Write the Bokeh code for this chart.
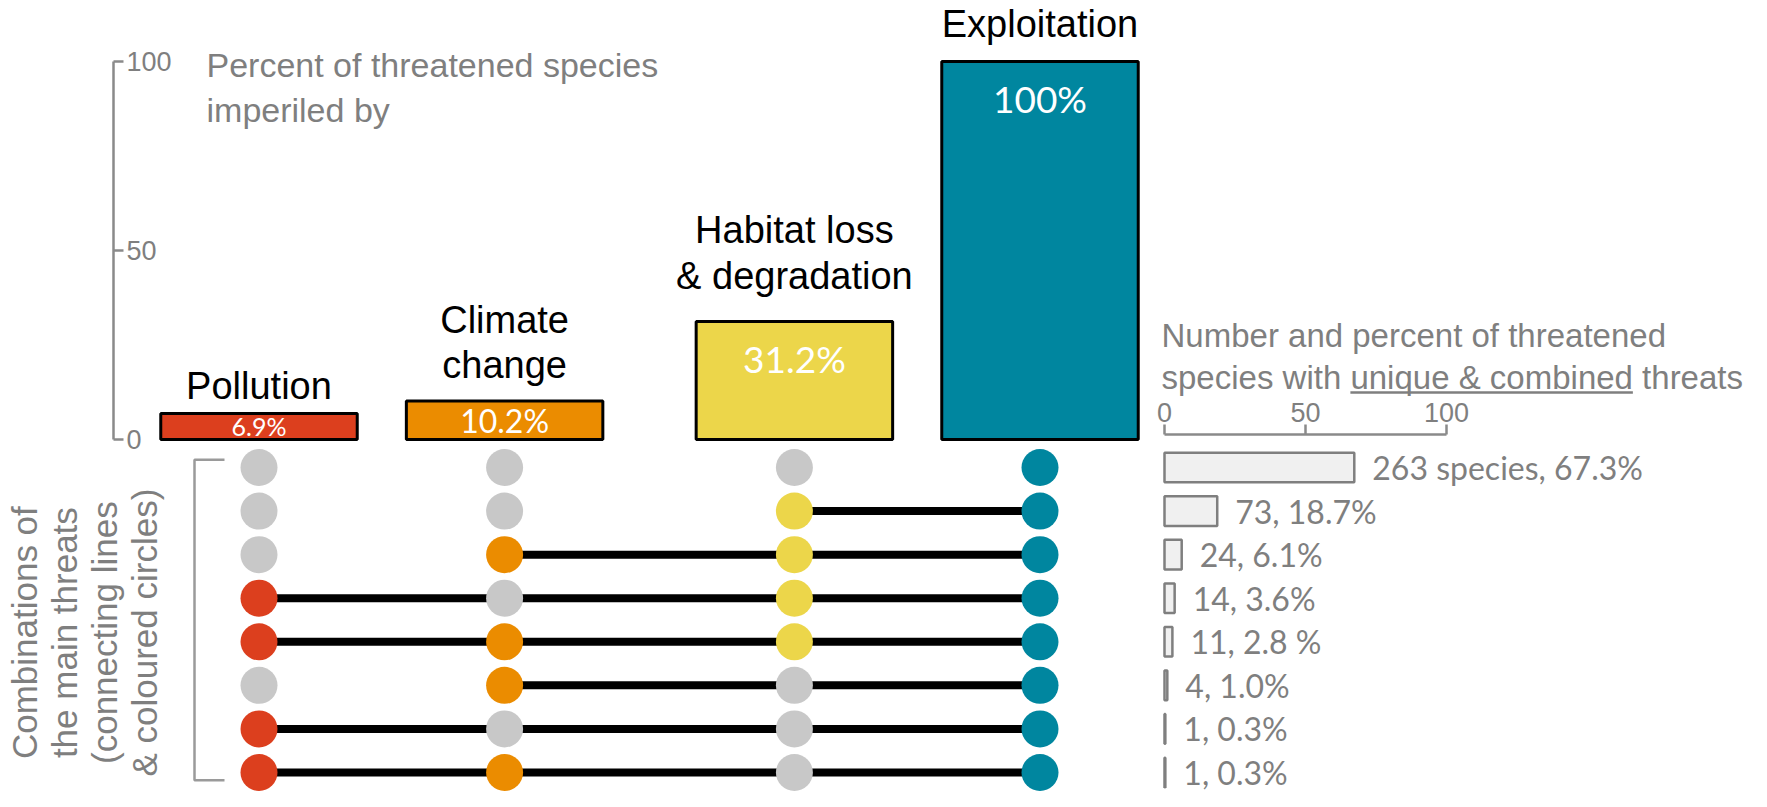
import math
from bokeh.plotting import figure
from bokeh.models import Range1d, LinearAxis, FixedTicker, ColumnDataSource
from bokeh.core.properties import value
from bokeh.embed import file_html
from bokeh.resources import INLINE

# ---------------- data ----------------
threats = ["Pollution", "Climate change", "Habitat loss & degradation", "Exploitation"]
threat_names = ["Pollution", "Climate\nchange", "Habitat loss\n& degradation", "Exploitation"]
threat_pct = [6.9, 10.2, 31.2, 100.0]
threat_colors = ["#DC3F1E", "#EB8C00", "#ECD64A", "#00869F"]

combo_pollution = [0, 0, 0, 1, 1, 0, 1, 1]
combo_climate = [0, 0, 1, 0, 1, 1, 0, 1]
combo_habitat = [0, 1, 1, 1, 1, 0, 0, 0]
combo_exploitation = [1, 1, 1, 1, 1, 1, 1, 1]
combo_species = [263, 73, 24, 14, 11, 4, 1, 1]
combo_pct = [67.3, 18.7, 6.1, 3.6, 2.8, 1.0, 0.3, 0.3]
combo_labels = ["263 species, 67.3%", "73, 18.7%", "24, 6.1%", "14, 3.6%",
                "11, 2.8 %", "4, 1.0%", "1, 0.3%", "1, 0.3%"]
pct_ticks = [0, 50, 100]

left_title = ["Percent of threatened species", "imperiled by"]
right_title_1 = "Number and percent of threatened"
right_title_2_pre = "species with "
right_title_2_under = "unique & combined"
right_title_2_post = " threats"
matrix_title = "Combinations of\nthe main threats\n(connecting lines\n& coloured circles)"

# ---------------- layout / style ----------------
W, H = 1751, 791
GRAY_TXT = "#7F7F7F"
GRAY_DOT = "#C8C8C8"
SANS = value("Liberation Sans")
CAL = value("Lato")


def lin_range(pa, va, pb, vb, p_start, p_end):
    k = (vb - va) / (pb - pa)
    return Range1d(start=va + (p_start - pa) * k, end=va + (p_end - pa) * k)


GROUP_GAP = 0.18
thr_pos = [i + (GROUP_GAP if i >= 2 else 0.0) for i in range(len(threats))]
rows = list(range(len(combo_pct)))

PCT0_PX, PCT100_PX = 439, 61
PX_PER_PCT = (PCT0_PX - PCT100_PX) / 100.0

p = figure(width=W, height=H, x_range=Range1d(0, W), y_range=Range1d(H, 0),
           output_backend="svg", toolbar_location=None,
           x_axis_location=None, y_axis_location=None, min_border=0,
           outline_line_color=None, background_fill_color="white",
           border_fill_color="white")
for g in p.grid:
    g.visible = False

p.extra_x_ranges = {
    "thr": lin_range(258.5, thr_pos[0], 1039.5, thr_pos[-1], 0, W),
    "pct2": lin_range(1164, 0, 1446, 100, 0, W),
}
p.extra_y_ranges = {
    "pct": lin_range(PCT0_PX, 0, PCT100_PX, 100, H, 0),
    "row": lin_range(467, rows[0], 772, rows[-1], H, 0),
}

# ---- top bars ----
bar_px = [v * PX_PER_PCT for v in threat_pct]
inner_off = [min(h / 2.0, 37) for h in bar_px]
inner_size = ["25px" if h < 30 else ("32px" if h < 45 else "37px") for h in bar_px]
name_gap = [6, 15, 25, 17]
src_thr = ColumnDataSource(dict(
    x=thr_pos, pct=threat_pct, color=threat_colors, name=threat_names,
    lab=[f"{v:g}%" for v in threat_pct], off=inner_off, size=inner_size,
    noff=[-g for g in name_gap]))
p.vbar(x="x", top="pct", bottom=0, width=0.8, source=src_thr,
       x_range_name="thr", y_range_name="pct",
       fill_color="color", line_color="black", line_width=3)
p.text(x="x", y="pct", text="lab", y_offset="off", source=src_thr,
       x_range_name="thr", y_range_name="pct",
       text_align="center", text_baseline="middle", text_color="white",
       text_font=CAL, text_font_size="size")
p.text(x="x", y="pct", text="name", y_offset="noff", source=src_thr,
       x_range_name="thr", y_range_name="pct",
       text_align="center", text_baseline="bottom", text_color="black",
       text_font=SANS, text_font_size="38px", text_line_height=1.08)

# ---- left axis (percent) ----
ax_l = LinearAxis(y_range_name="pct", ticker=FixedTicker(ticks=pct_ticks),
                  fixed_location=113, bounds=(0, 100))
p.add_layout(ax_l, "right")

# ---- left title ----
p.text(x=[206, 206], y=[64, 109], text=left_title, text_baseline="middle",
       text_align="left", text_color=GRAY_TXT, text_font=SANS, text_font_size="34px")

# ---- combination matrix ----
membership = [combo_pollution, combo_climate, combo_habitat, combo_exploitation]
dx, dy, dc = [], [], []
for t, mem in enumerate(membership):
    for r, m in enumerate(mem):
        dx.append(thr_pos[t])
        dy.append(r)
        dc.append(threat_colors[t] if m else GRAY_DOT)
sx0, sx1, sy = [], [], []
for r in rows:
    active = [t for t in range(len(threats)) if membership[t][r]]
    if len(active) > 1:
        sx0.append(thr_pos[active[0]])
        sx1.append(thr_pos[active[-1]])
        sy.append(r)
p.segment(x0=sx0, y0=sy, x1=sx1, y1=sy, x_range_name="thr", y_range_name="row",
          line_color="black", line_width=8)
p.scatter(x=dx, y=dy, color=dc, size=37, line_color=None,
          x_range_name="thr", y_range_name="row")

# bracket and rotated title
p.line(x=[224, 194, 194, 224], y=[rows[0] - 0.18, rows[0] - 0.18, rows[-1] + 0.18, rows[-1] + 0.18],
       y_range_name="row", line_color="#9A9A9A", line_width=2.5)
p.text(x=[84], y=[(rows[0] + rows[-1]) / 2 + 0.29], text=[matrix_title], y_range_name="row",
       angle=math.pi / 2, text_align="center", text_baseline="middle",
       text_color=GRAY_TXT, text_font=SANS, text_font_size="35px", text_line_height=1.03)

# ---- right bars ----
p.hbar(y=rows, left=0, right=combo_pct, height=0.68, x_range_name="pct2", y_range_name="row",
       fill_color="#F0F0F0", line_color="#7F7F7F", line_width=2.5)
p.text(x=combo_pct, y=rows, text=combo_labels, x_offset=18, x_range_name="pct2",
       y_range_name="row", text_align="left", text_baseline="middle",
       text_color=GRAY_TXT, text_font=CAL, text_font_size="32px")

ax_r = LinearAxis(x_range_name="pct2", ticker=FixedTicker(ticks=pct_ticks),
                  fixed_location=434, bounds=(0, 100))
p.add_layout(ax_r, "above")

for ax in (ax_l, ax_r):
    ax.axis_line_color = "#8A8A8A"
    ax.axis_line_width = 2.5
    ax.major_tick_line_color = "#8A8A8A"
    ax.major_tick_line_width = 2.5
    ax.major_tick_out = 10
    ax.major_tick_in = 0
    ax.minor_tick_out = 0
    ax.minor_tick_in = 0
    ax.major_label_text_color = GRAY_TXT
    ax.major_label_text_font = "Liberation Sans"
    ax.major_label_text_font_size = "27px"
    ax.major_label_standoff = 3

# ---- right title with underline ----
AW = {"a": 556, "b": 556, "c": 500, "d": 556, "e": 556, "h": 556, "i": 222, "m": 833,
      "n": 556, "o": 556, "p": 556, "q": 556, "s": 500, "t": 278, "u": 556, "w": 722,
      "&": 667, " ": 278, "r": 333}
TS = 33


def text_w(s):
    return sum(AW.get(c, 556) for c in s) * TS / 1000.0


RT_X, RT_Y1, RT_Y2 = 1161, 335, 377
p.text(x=[RT_X, RT_X], y=[RT_Y1, RT_Y2],
       text=[right_title_1, right_title_2_pre + right_title_2_under + right_title_2_post],
       text_align="left", text_baseline="middle", text_color=GRAY_TXT,
       text_font=SANS, text_font_size=f"{TS}px")
ux0 = RT_X + text_w(right_title_2_pre)
ux1 = ux0 + text_w(right_title_2_under)
p.segment(x0=[ux0], y0=[RT_Y2 + 15], x1=[ux1], y1=[RT_Y2 + 15],
          line_color=GRAY_TXT, line_width=2.5)

open("out.html", "w").write(file_html(p, INLINE))
